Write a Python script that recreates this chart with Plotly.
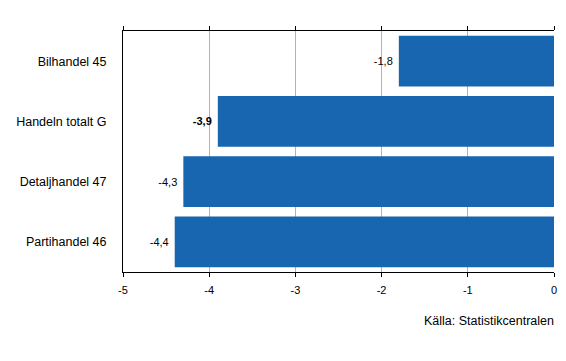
import plotly.graph_objects as go

categories = ["Partihandel 46", "Detaljhandel 47", "Handeln totalt G", "Bilhandel 45"]
values = [-4.4, -4.3, -3.9, -1.8]
value_labels = ["-4,4 ", "-4,3 ", "<b>-3,9</b> ", "-1,8 "]
tick_vals = [-5, -4, -3, -2, -1, 0]
tick_text = ["-5", "-4", "-3", "-2", "-1", "0"]

fig = go.Figure(go.Bar(
    x=values, y=categories, orientation="h",
    marker=dict(color="#1866b0", line=dict(width=0)),
    text=value_labels, texttemplate="%{text}", textposition="outside",
    textfont=dict(family="Liberation Sans, Arial", size=11, color="black"),
    cliponaxis=False, width=0.84,
))

fig.update_layout(
    width=566, height=361,
    margin=dict(l=123, r=12, t=31, b=89),
    paper_bgcolor="white", plot_bgcolor="white",
    font=dict(family="Liberation Sans, Arial", size=11, color="black"),
    showlegend=False,
    bargap=0.16,
    xaxis=dict(range=[-5, 0], tickvals=tick_vals, ticktext=tick_text,
               showgrid=True, gridcolor="#b4b4b4", gridwidth=1,
               showline=True, linecolor="black", linewidth=1,
               mirror="ticks", ticks="outside", ticklen=4, tickcolor="black",
               zeroline=False, fixedrange=True, automargin=False,
               ticklabeloverflow="allow", ticklabelstandoff=4,
               tickfont=dict(size=11)),
    yaxis=dict(showline=True, linecolor="black", linewidth=1,
               ticks="", showgrid=False, zeroline=False, automargin=False,
               ticklabelstandoff=13,
               tickfont=dict(size=12.5)),
    annotations=[dict(text="Källa: Statistikcentralen", xref="paper", yref="paper",
                      x=1.005, y=-0.165, xanchor="right", yanchor="top",
                      showarrow=False, font=dict(size=12.5))],
)

fig.write_html("out.html", config={"displayModeBar": False},
               post_script="document.body.style.margin='0';document.body.style.overflow='hidden';")
